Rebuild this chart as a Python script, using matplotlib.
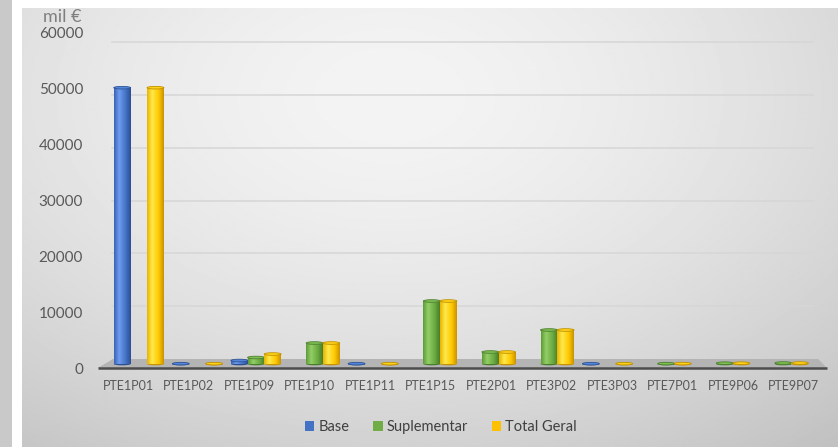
import numpy as np
import matplotlib
matplotlib.use("Agg")
import matplotlib.pyplot as plt
from matplotlib.patches import Ellipse, Rectangle, Polygon, Patch
from matplotlib.colors import LinearSegmentedColormap

plt.rcParams['font.family'] = ['Lato', 'DejaVu Sans']

# values in thousands of euro
programas = ['PTE1P01', 'PTE1P02', 'PTE1P09', 'PTE1P10', 'PTE1P11', 'PTE1P15',
             'PTE2P01', 'PTE3P02', 'PTE3P03', 'PTE7P01', 'PTE9P06', 'PTE9P07']
base = [50700, 60, 640, 0, 60, 0, 0, 0, 60, 0, 0, 0]
suplementar = [0, 0, 1190, 3850, 0, 11560, 2200, 6240, 0, 70, 150, 180]
total_geral = [50700, 60, 1830, 3850, 60, 11560, 2200, 6240, 60, 70, 150, 180]

series = [
    ('Base', base, '#4472C4', ['#3A63B5', '#6E9CF0', '#4472C4', '#2B4E92'], '#5585DA', '#2F5597'),
    ('Suplementar', suplementar, '#70AD47', ['#5E9A38', '#93CF66', '#6AAA41', '#4A7D2B'], '#7DBD52', '#4E8030'),
    ('Total Geral', total_geral, '#FFC000', ['#E8B400', '#FFE94A', '#FFC800', '#C79200'], '#FFD21A', '#BF9000'),
]

W, H = 838, 447
fig = plt.figure(figsize=(W / 100, H / 100), dpi=100)


def frect(x0, y0, x1, y1):
    # pixel box (top-left origin) -> figure fraction rect
    return [x0 / W, 1 - y1 / H, (x1 - x0) / W, (y1 - y0) / H]


# grey strip on the far left
fig.patches.append(Rectangle((0, 0), 12 / W, 1, transform=fig.transFigure,
                             facecolor='#C9C9C9', edgecolor='none'))

# chart area with soft radial gradient
bg = fig.add_axes(frect(22, 8, 838, 447))
yy, xx = np.mgrid[0:1:300j, 0:1:600j]
r = np.sqrt(((xx - 0.45) / 0.75) ** 2 + ((yy - 0.2) / 0.9) ** 2)
shade = 0.955 - 0.16 * np.clip(r, 0, 1.3) ** 1.6
bg.imshow(shade, cmap='gray', vmin=0, vmax=1, extent=[0, 1, 0, 1],
          origin='upper', aspect='auto', interpolation='bilinear')
bg.set_axis_off()

plot_rect = frect(97.7, 32, 824, 368)

# back wall: gridlines and floor
back = fig.add_axes(plot_rect)
back.set_xlim(0, 1)
back.set_ylim(-1705, 61930)
for v in range(10000, 60001, 10000):
    back.axhline(v, xmin=0.02, xmax=0.985, color='#D6D6D6', lw=1.1, zorder=1)
floor = Polygon([(0.0, 0.0), (1.004, 0.0), (0.992, 9 / 336), (0.021, 9 / 336)],
                closed=True, transform=back.transAxes, facecolor='#B4B4B4',
                edgecolor='none', zorder=2, clip_on=False)
back.add_patch(floor)
back.plot([0.0, 1.004], [0.0, 0.0], transform=back.transAxes, color='#4D4D4D',
          lw=1.8, zorder=3, clip_on=False, solid_capstyle='butt')
back.set_axis_off()
back.patch.set_alpha(0)

# front axis carrying the value labels
ax = fig.add_axes(plot_rect)
ax.patch.set_alpha(0)
ax.set_xlim(-0.5, len(programas) - 0.5)
ax.set_ylim(0, 60000)
ax.set_yticks(range(0, 60001, 10000))
ax.set_xticks(range(len(programas)))
ax.set_xticklabels(programas)
for s in ax.spines.values():
    s.set_visible(False)
ax.tick_params(axis='y', length=0, pad=10.5, labelsize=11, labelcolor='#595959')
ax.tick_params(axis='x', length=0, pad=9, labelsize=9, labelcolor='#595959')

# cylinders on the mid-depth plane
bx = fig.add_axes(plot_rect)
bx.patch.set_alpha(0)
bx.set_axis_off()

bar_w = 0.28
ell_h = 480
grad = np.linspace(0, 1, 64)[None, :]
for k, (name, vals, col, stops, cap, edge) in enumerate(series):
    cmap = LinearSegmentedColormap.from_list(name, list(zip([0, 0.3, 0.7, 1], stops)))
    for i, v in enumerate(vals):
        if v <= 0:
            continue
        xc = i + 0.18 - 0.032 * i + (k - 1) * 0.275
        z = 2 + k + i * 0.01
        bx.add_patch(Ellipse((xc, 0), bar_w, ell_h, facecolor=stops[3],
                             edgecolor='none', zorder=z))
        bx.imshow(grad, cmap=cmap, extent=[xc - bar_w / 2, xc + bar_w / 2, 0, v],
                  aspect='auto', interpolation='bilinear', zorder=z + 0.001)
        bx.add_patch(Ellipse((xc, v), bar_w, ell_h, facecolor=cap,
                             edgecolor=edge, lw=0.6, zorder=z + 0.002))
bx.set_xlim(-0.5, len(programas) - 0.5)
bx.set_ylim(-734, 60920)

fig.text(43 / W, 1 - 17 / H, 'mil €', fontsize=13, color='#7F7F7F', va='center')

handles = [Patch(facecolor=s[2], edgecolor='none', label=s[0]) for s in series]
fig.legend(handles=handles, loc='center', bbox_to_anchor=(441 / W, 1 - 427 / H),
           ncol=3, frameon=False, fontsize=10.5, handlelength=0.65,
           handleheight=0.65, handletextpad=0.3, columnspacing=1.6,
           labelcolor='#404040')

fig.savefig('out.png', dpi=100)
